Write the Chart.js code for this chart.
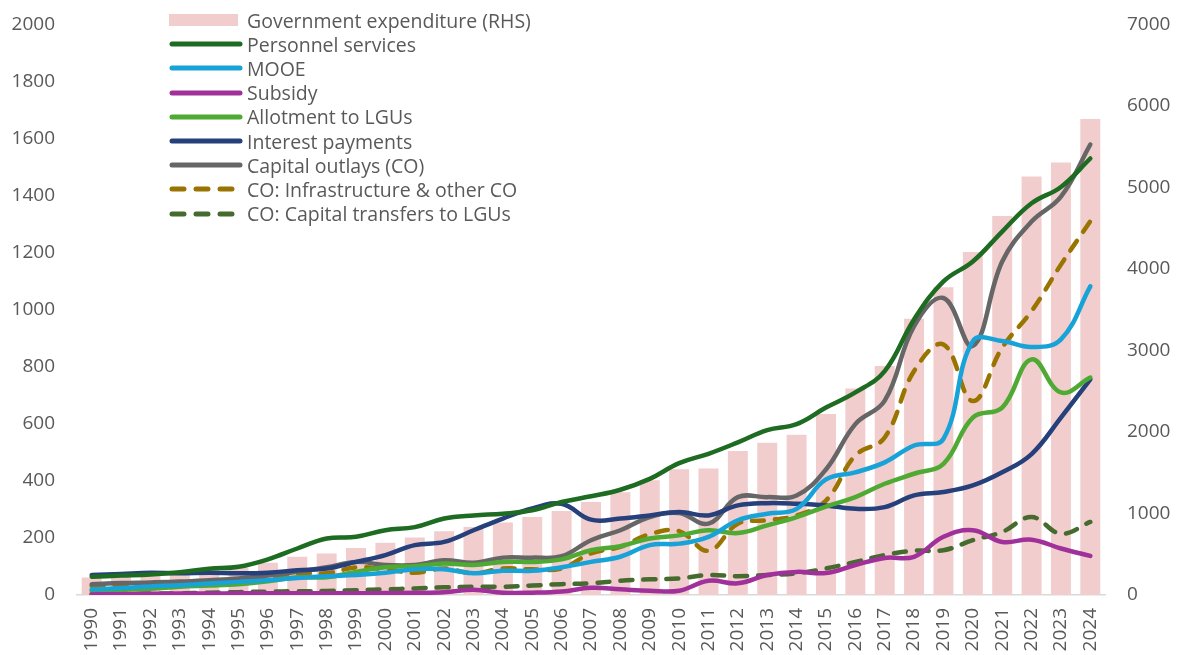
<!DOCTYPE html>
<html>
<head>
<meta charset="utf-8">
<script src="https://cdn.jsdelivr.net/npm/chart.js@4.4.1/dist/chart.umd.min.js"></script>
<style>
  html, body { margin: 0; padding: 0; background: #fff; }
  #wrap { position: relative; width: 1179px; height: 655px; }
  #legend {
    position: absolute; left: 169px; top: 8px;
    font-family: "Open Sans", sans-serif; font-size: 19.5px; color: #595959;
  }
  #legend .row { display: flex; align-items: center; height: 24.2px; white-space: nowrap; }
  #legend svg { width: 74px; height: 14px; margin-right: 4px; flex: none; }
</style>
</head>
<body>
<div id="wrap">
  <canvas id="myChart" width="1179" height="655"></canvas>
  <div id="legend"></div>
</div>
<script>
// years on the x axis
var years = ['1990', '1991', '1992', '1993', '1994', '1995', '1996', '1997', '1998', '1999',
  '2000', '2001', '2002', '2003', '2004', '2005', '2006', '2007', '2008', '2009',
  '2010', '2011', '2012', '2013', '2014', '2015', '2016', '2017', '2018', '2019',
  '2020', '2021', '2022', '2023', '2024'];

// right axis: total expenditure
var govExpenditure = [216, 245, 270, 290, 315, 334, 395, 468, 509, 578,
  640, 704, 782, 834, 888, 957, 1030, 1140, 1262, 1409,
  1543, 1551, 1768, 1869, 1967, 2220, 2533, 2810, 3388, 3775,
  4207, 4651, 5135, 5306, 5840];

// left axis: components
var personnel = [64, 68, 72, 80, 92, 99, 125, 163, 198, 204,
  227, 238, 268, 279, 285, 297, 326, 346, 369, 407,
  462, 495, 535, 578, 599, 657, 710, 785, 966, 1099,
  1169, 1274, 1373, 1430, 1530];
var mooe = [20, 24, 30, 34, 40, 46, 52, 60, 66, 70,
  78, 90, 90, 76, 85, 85, 97, 116, 134, 175,
  180, 204, 262, 285, 302, 405, 430, 465, 524, 547,
  890, 890, 869, 896, 1082];
var subsidy = [2, 3, 4, 5, 5, 6, 6, 6, 6, 6,
  7, 8, 10, 18, 8, 8, 12, 25, 20, 15,
  15, 50, 41, 70, 81, 77, 105, 130, 134, 204,
  227, 186, 194, 163, 137];
var allotment = [15, 18, 22, 29, 33, 38, 48, 62, 62, 81,
  97, 101, 110, 105, 116, 116, 125, 157, 171, 198,
  209, 227, 217, 244, 273, 310, 343, 390, 425, 460,
  622, 657, 826, 710, 762];
var interest = [70, 74, 78, 76, 78, 76, 78, 87, 93, 116,
  140, 175, 186, 227, 268, 303, 320, 264, 268, 279,
  291, 279, 314, 322, 320, 314, 302, 308, 349, 361,
  384, 430, 494, 622, 756];
var capitalOutlays = [38, 42, 44, 47, 52, 58, 68, 81, 97, 116,
  105, 105, 122, 113, 131, 131, 136, 192, 227, 273,
  287, 250, 343, 343, 349, 440, 599, 681, 942, 1041,
  873, 1169, 1309, 1396, 1579];
var infraOther = [32, 36, 37, 38, 44, 50, 56, 76, 76, 97,
  90, 78, 93, 76, 93, 90, 93, 146, 169, 213,
  224, 155, 250, 262, 279, 331, 489, 552, 785, 878,
  680, 867, 995, 1158, 1310];
var capTransfers = [4, 4, 5, 6, 8, 10, 12, 13, 14, 17,
  20, 23, 27, 29, 29, 33, 38, 41, 50, 55,
  58, 70, 66, 70, 76, 93, 116, 140, 155, 157,
  192, 221, 273, 215, 256];

var lineStyle = function (label, data, color, dashed) {
  return {
    type: 'line',
    label: label,
    data: data,
    yAxisID: 'y',
    borderColor: color,
    backgroundColor: color,
    borderWidth: 4.5,
    borderDash: dashed ? [12, 11] : [],
    borderCapStyle: 'round',
    borderJoinStyle: 'round',
    pointRadius: 0,
    tension: 0.4,
    fill: false,
    order: 1
  };
};

var tickColor = '#595959';
var tickFont = { family: 'Open Sans', size: 19 };
var plain = function (v) { return String(v); };

var ctx = document.getElementById('myChart').getContext('2d');
var myChart = new Chart(ctx, {
  type: 'bar',
  data: {
    labels: years,
    datasets: [
      {
        type: 'bar',
        label: 'Government expenditure (RHS)',
        data: govExpenditure,
        yAxisID: 'y1',
        backgroundColor: '#f1cdcd',
        barPercentage: 0.68,
        categoryPercentage: 1,
        order: 10
      },
      lineStyle('Personnel services', personnel, '#1e6b22', false),
      lineStyle('MOOE', mooe, '#17a2d8', false),
      lineStyle('Subsidy', subsidy, '#a0309a', false),
      lineStyle('Allotment to LGUs', allotment, '#4eaa32', false),
      lineStyle('Interest payments', interest, '#25407a', false),
      lineStyle('Capital outlays (CO)', capitalOutlays, '#666666', false),
      lineStyle('CO: Infrastructure & other CO', infraOther, '#9a7400', true),
      lineStyle('CO: Capital transfers to LGUs', capTransfers, '#466b2e', true)
    ]
  },
  options: {
    responsive: false,
    animation: false,
    layout: { padding: { top: 10, left: 0, right: 0, bottom: 0 } },
    plugins: {
      legend: { display: false },
      tooltip: { enabled: false }
    },
    scales: {
      x: {
        grid: { display: false, drawTicks: false },
        border: { display: true, color: '#d9d9d9', width: 1.5 },
        ticks: { color: tickColor, font: tickFont, minRotation: 90, maxRotation: 90, padding: 13 },
        afterFit: function (s) { s.height = 60; }
      },
      y: {
        position: 'left',
        min: 0, max: 2000,
        grid: { display: false, tickLength: 9 },
        border: { display: false },
        ticks: { stepSize: 200, color: tickColor, font: tickFont, padding: 13, callback: plain },
        afterFit: function (s) { s.width = 77; }
      },
      y1: {
        position: 'right',
        min: 0, max: 7000,
        grid: { display: false, tickLength: 9 },
        border: { display: false },
        ticks: { stepSize: 1000, color: tickColor, font: tickFont, padding: 13, callback: plain },
        afterFit: function (s) { s.width = 74; }
      }
    }
  }
});

// legend rows built from the chart's datasets
var legendBox = document.getElementById('legend');
myChart.data.datasets.forEach(function (ds) {
  var row = document.createElement('div');
  row.className = 'row';
  var sw;
  if (ds.type === 'bar') {
    sw = '<svg viewBox="0 0 74 14"><rect x="0" y="1" width="69" height="12" fill="' + ds.backgroundColor + '"/></svg>';
  } else if (ds.borderDash.length) {
    sw = '<svg viewBox="0 0 74 14"><line x1="3" y1="7" x2="71" y2="7" stroke="' + ds.borderColor +
      '" stroke-width="5" stroke-linecap="round" stroke-dasharray="12 12"/></svg>';
  } else {
    sw = '<svg viewBox="0 0 74 14"><line x1="3" y1="7" x2="71" y2="7" stroke="' + ds.borderColor +
      '" stroke-width="5" stroke-linecap="round"/></svg>';
  }
  row.innerHTML = sw + '<span></span>';
  row.querySelector('span').textContent = ds.label;
  legendBox.appendChild(row);
});
</script>
</body>
</html>
